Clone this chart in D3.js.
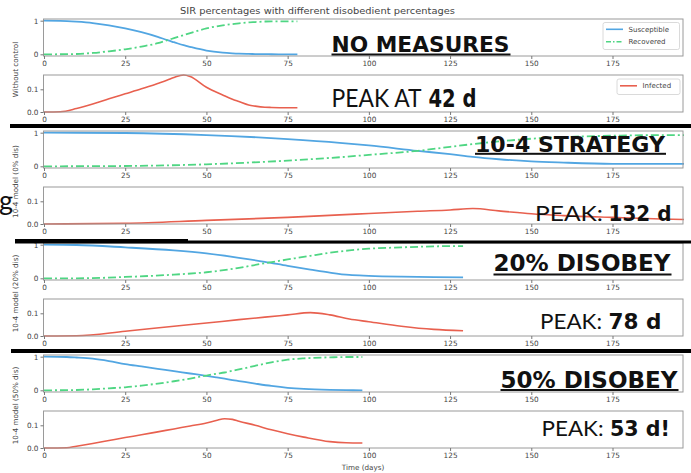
<!DOCTYPE html>
<html><head><meta charset="utf-8">
<script src="https://cdn.jsdelivr.net/npm/d3@7"></script>
<style>body{margin:0;background:#fff;} svg{display:block;}</style>
</head><body><svg id="c" width="691" height="473"></svg>
<script>
// ---------- data ----------
const title = "SIR percentages with different disobedient percentages";
const groupLabels = ["Without control", "10-4 model (0% dis)", "10-4 model (20% dis)", "10-4 model (50% dis)"];
const xTicks = [0, 25, 50, 75, 100, 125, 150, 175];
const srTicks = [0, 1];
const iTicks = [0.0, 0.1];
const xLabel = "Time (days)";
const seriesNames = ["Susceptible", "Recovered", "Infected"];

// Without control
const ncDays = [0, 5, 10, 15, 20, 25, 30, 35, 38, 40, 43, 45, 50, 55, 58, 60, 63, 65, 68, 70, 75, 78];
const ncS = [1, 0.995, 0.97, 0.93, 0.86, 0.77, 0.66, 0.52, 0.42, 0.36, 0.27, 0.22, 0.11, 0.05, 0.03, 0.02, 0.012, 0.008, 0.004, 0.002, 0, 0];
const ncR = [0, 0.002, 0.01, 0.04, 0.09, 0.15, 0.23, 0.33, 0.42, 0.48, 0.57, 0.63, 0.77, 0.86, 0.9, 0.92, 0.95, 0.96, 0.975, 0.98, 0.98, 0.98];
const ncI = [0, 0.001, 0.015, 0.035, 0.058, 0.08, 0.102, 0.126, 0.141, 0.152, 0.163, 0.156, 0.109, 0.075, 0.056, 0.046, 0.031, 0.026, 0.021, 0.02, 0.019, 0.019];

// 10-4 model, 0% disobedient
const d0Days = [0, 25, 50, 75, 91, 100, 115, 125, 132, 140, 150, 160, 175, 190, 197];
const d0S = [1, 0.99, 0.93, 0.81, 0.7, 0.62, 0.46, 0.36, 0.28, 0.21, 0.145, 0.11, 0.075, 0.07, 0.07];
const d0R = [0, 0.01, 0.06, 0.17, 0.27, 0.34, 0.46, 0.58, 0.66, 0.74, 0.82, 0.87, 0.91, 0.93, 0.93];
const d0I = [0, 0.003, 0.016, 0.029, 0.04, 0.046, 0.056, 0.062, 0.068, 0.058, 0.045, 0.037, 0.029, 0.022, 0.02];

// 10-4 model, 20% disobedient
const d20Days = [0, 10, 25, 40, 50, 60, 68, 75, 82, 88, 94, 100, 110, 120, 129];
const d20S = [1, 0.99, 0.92, 0.83, 0.74, 0.61, 0.49, 0.37, 0.26, 0.17, 0.1, 0.075, 0.05, 0.035, 0.03];
const d20R = [0, 0.0, 0.04, 0.11, 0.18, 0.31, 0.45, 0.56, 0.67, 0.76, 0.83, 0.88, 0.92, 0.95, 0.96];
const d20I = [0, 0.001, 0.021, 0.043, 0.057, 0.072, 0.083, 0.093, 0.103, 0.093, 0.075, 0.063, 0.043, 0.029, 0.023];

// 10-4 model, 50% disobedient
const d50Days = [0, 7, 10, 15, 20, 25, 30, 35, 40, 45, 50, 53, 55.6, 58, 60, 65, 70, 75, 80, 88, 93, 98];
const d50S = [1, 0.99, 0.975, 0.94, 0.87, 0.78, 0.71, 0.64, 0.57, 0.5, 0.43, 0.385, 0.345, 0.305, 0.275, 0.2, 0.13, 0.075, 0.04, 0.012, 0.004, 0];
const d50R = [0, 0.005, 0.01, 0.03, 0.06, 0.09, 0.14, 0.2, 0.27, 0.35, 0.44, 0.49, 0.53, 0.58, 0.62, 0.73, 0.83, 0.91, 0.95, 0.98, 0.99, 0.99];
const d50I = [0, 0.001, 0.008, 0.02, 0.033, 0.046, 0.058, 0.071, 0.084, 0.097, 0.11, 0.121, 0.129, 0.126, 0.118, 0.1, 0.08, 0.063, 0.048, 0.028, 0.023, 0.022];

const headings = ["NO MEASURES", "10-4 STRATEGY", "20% DISOBEY", "50% DISOBEY"];
const peakPrefix = ["PEAK AT ", "PEAK: ", "PEAK: ", "PEAK: "];
const peakValue = ["42 d", "132 d", "78 d", "53 d!"];
const strayText = "g";

// ---------- build ----------
const groups = [
  {days: ncDays, S: ncS, R: ncR, I: ncI},
  {days: d0Days, S: d0S, R: d0R, I: d0I},
  {days: d20Days, S: d20S, R: d20R, I: d20I},
  {days: d50Days, S: d50S, R: d50R, I: d50I}
];

// layout (positions only)
const L = {
  x0: 44, x1: 683, xMax: 196.7,
  top0: 19, step: 56, h: 37,
  heading: [ {x: 331.5, y: 52, w: 178, fs: 22, ul: 54.5},
             {x: 475, y: 151.5, w: 190, fs: 21, ul: 153.8},
             {x: 493.5, y: 271, w: 177, fs: 23, ul: 274.5},
             {x: 500.5, y: 387.5, w: 177, fs: 23, ul: 390} ],
  peak: [ {x: 331.5, y: 107, w1: 90, x2: 428.5, w2: 48, fs: 25},
          {x: 535, y: 221, w1: 68, x2: 608.5, w2: 63, fs: 22},
          {x: 540, y: 328.5, w1: 62, x2: 608.5, w2: 53, fs: 22},
          {x: 541.5, y: 436, w1: 62, x2: 610, w2: 60, fs: 22} ]
};
const colS = "#52a6e2", colR = "#4fd683", colI = "#e8604f";

const svg = d3.select("#c");
svg.append("rect").attr("width", 691).attr("height", 473).attr("fill", "#fff");

const x = d3.scaleLinear().domain([0, L.xMax]).range([L.x0, L.x1]);
const tickFont = "DejaVu Sans, sans-serif";

function drawPanel(i, type, g) {
  const top = L.top0 + L.step * i;
  const y = d3.scaleLinear()
    .domain(type === "SR" ? [-0.05, 1.05] : [0, 0.163])
    .range([top + L.h, top]);
  const p = svg.append("g");
  const line = key => d3.line().curve(d3.curveMonotoneX)
      .x((d, k) => x(g.days[k])).y((d, k) => y(g[key][k]))(g[key]);
  if (type === "SR") {
    p.append("path").attr("d", line("S")).attr("fill", "none").attr("stroke", colS).attr("stroke-width", 1.8);
    p.append("path").attr("d", line("R")).attr("fill", "none").attr("stroke", colR).attr("stroke-width", 1.8)
      .attr("stroke-dasharray", "8,3,2,3");
  } else {
    p.append("path").attr("d", line("I")).attr("fill", "none").attr("stroke", colI).attr("stroke-width", 1.6);
  }
  p.append("rect").attr("x", L.x0 - 0.5).attr("y", top).attr("width", L.x1 - L.x0 + 0.5).attr("height", L.h)
    .attr("fill", "none").attr("stroke", "#9a9a9a").attr("stroke-width", 1);
  const ax = p.append("g").attr("transform", `translate(0,${top + L.h})`)
    .call(d3.axisBottom(x).tickValues(xTicks).tickSize(3).tickPadding(1.5).tickFormat(d3.format("d")));
  const ay = p.append("g").attr("transform", `translate(${L.x0 - 0.5},0)`)
    .call(d3.axisLeft(y).tickValues(type === "SR" ? srTicks : iTicks).tickSize(3).tickPadding(2)
      .tickFormat(type === "SR" ? d3.format("d") : d3.format(".1f")));
  [ax, ay].forEach(a => {
    a.select(".domain").remove();
    a.selectAll("line").attr("stroke", "#777");
    a.selectAll("text").attr("font-family", tickFont).attr("font-size", 7.3).attr("fill", "#444");
  });
}

groups.forEach((g, gi) => {
  drawPanel(gi * 2, "SR", g);
  drawPanel(gi * 2 + 1, "I", g);
  const cy = L.top0 + L.step * gi * 2 + (L.step + L.h) / 2 + 4;
  svg.append("text").attr("transform", `translate(18,${cy}) rotate(-90)`)
    .attr("text-anchor", "middle").attr("font-family", tickFont).attr("font-size", 7.2).attr("fill", "#444")
    .text(groupLabels[gi]);
});

function legend(xb, yb, w, h, items) {
  const lg = svg.append("g");
  lg.append("rect").attr("x", xb).attr("y", yb).attr("width", w).attr("height", h).attr("rx", 2)
    .attr("fill", "#fff").attr("fill-opacity", 0.85).attr("stroke", "#d0d0d0").attr("stroke-width", 0.8);
  items.forEach((it, k) => {
    const yy = yb + 6.8 + k * 12.4;
    lg.append("line").attr("x1", xb + 3).attr("x2", xb + 20).attr("y1", yy).attr("y2", yy)
      .attr("stroke", it.c).attr("stroke-width", 1.6).attr("stroke-dasharray", it.dash || null);
    lg.append("text").attr("x", xb + 25.5).attr("y", yy + 2.4).attr("font-family", tickFont).attr("font-size", 7)
      .attr("fill", "#444").text(it.t);
  });
}
legend(603, 22.5, 76.5, 27, [{t: seriesNames[0], c: colS}, {t: seriesNames[1], c: colR, dash: "5,2,1.5,2"}]);
legend(617, 79, 63, 15.5, [{t: seriesNames[2], c: colI}]);

svg.append("text").attr("x", 180).attr("y", 13.5).attr("font-family", tickFont).attr("font-size", 8.8)
  .attr("fill", "#444").attr("textLength", 275).attr("lengthAdjust", "spacingAndGlyphs").text(title);
svg.append("text").attr("x", 363).attr("y", 470).attr("text-anchor", "middle").attr("font-family", tickFont)
  .attr("font-size", 7.2).attr("fill", "#444").text(xLabel);

[[10, 691, 124, 4], [15, 188, 239, 4.5], [188, 691, 240.5, 3], [11, 691, 349, 4]].forEach(b =>
  svg.append("rect").attr("x", b[0]).attr("y", b[2]).attr("width", b[1] - b[0]).attr("height", b[3]).attr("fill", "#000"));

headings.forEach((t, k) => {
  const h = L.heading[k];
  svg.append("text").attr("x", h.x).attr("y", h.y).attr("font-family", "DejaVu Sans, sans-serif")
    .attr("font-weight", "bold").attr("font-size", h.fs).attr("fill", "#111")
    .attr("textLength", h.w).attr("lengthAdjust", "spacingAndGlyphs").text(t);
  svg.append("rect").attr("x", h.x).attr("y", h.ul - 1).attr("width", h.w + 1).attr("height", 2).attr("fill", "#111");
});
peakPrefix.forEach((t, k) => {
  const p = L.peak[k];
  svg.append("text").attr("x", p.x).attr("y", p.y).attr("font-family", "Lato, 'Open Sans', sans-serif")
    .attr("font-size", p.fs).attr("fill", "#111")
    .attr("textLength", p.w1).attr("lengthAdjust", "spacingAndGlyphs").text(t.trim());
  svg.append("text").attr("x", p.x2).attr("y", p.y).attr("font-family", "DejaVu Sans, sans-serif")
    .attr("font-weight", "bold").attr("font-size", p.fs).attr("fill", "#111")
    .attr("textLength", p.w2).attr("lengthAdjust", "spacingAndGlyphs").text(peakValue[k]);
});
svg.append("text").attr("x", -1).attr("y", 210).attr("font-family", "Lato, sans-serif").attr("font-size", 27)
  .attr("fill", "#111").text(strayText);
</script></body></html>
